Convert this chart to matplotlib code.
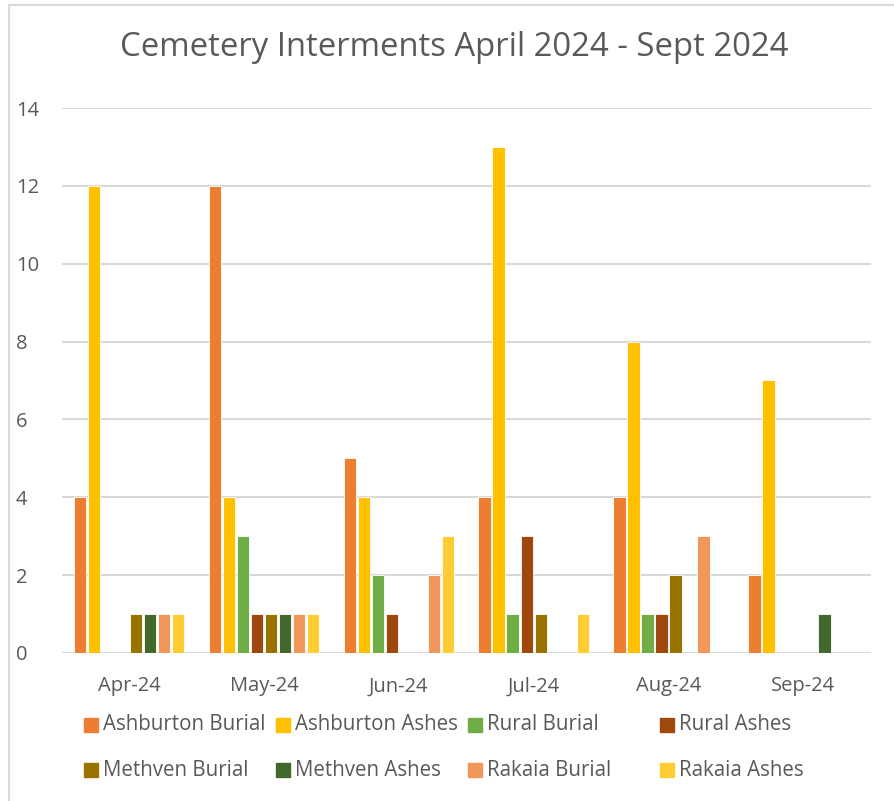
import numpy as np
import matplotlib.pyplot as plt
from matplotlib.patches import Rectangle
from matplotlib.lines import Line2D

months = ['Apr-24', 'May-24', 'Jun-24', 'Jul-24', 'Aug-24', 'Sep-24']
series_names = ['Ashburton Burial', 'Ashburton Ashes', 'Rural Burial', 'Rural Ashes',
                'Methven Burial', 'Methven Ashes', 'Rakaia Burial', 'Rakaia Ashes']

ashburton_burial = [4, 12, 5, 4, 4, 2]
ashburton_ashes = [12, 4, 4, 13, 8, 7]
rural_burial = [0, 3, 2, 1, 1, 0]
rural_ashes = [0, 1, 1, 3, 1, 0]
methven_burial = [1, 1, 0, 1, 2, 0]
methven_ashes = [1, 1, 0, 0, 0, 1]
rakaia_burial = [1, 1, 2, 0, 3, 0]
rakaia_ashes = [1, 1, 3, 1, 0, 0]

series = [ashburton_burial, ashburton_ashes, rural_burial, rural_ashes,
          methven_burial, methven_ashes, rakaia_burial, rakaia_ashes]
colors = ['#ED7D31', '#FFC000', '#70AD47', '#9E480E',
          '#997300', '#43682B', '#F1975A', '#FFCD33']

plt.rcParams['font.family'] = ['Open Sans', 'DejaVu Sans']
text_color = '#595959'
grid_color = '#D9D9D9'

W, H = 895, 801
fig = plt.figure(figsize=(W / 100, H / 100), dpi=100)
ax = fig.add_axes([0.069, 0.185, 0.904, 0.68])

x = np.arange(len(months))
slot = 0.104
width = 0.092
for i, (vals, c) in enumerate(zip(series, colors)):
    ax.bar(x + (i - 3.5) * slot, vals, width, color=c, edgecolor='white',
           linewidth=0.6, zorder=3)

ax.set_xlim(-0.5, len(months) - 0.5)
ax.set_ylim(0, 14)
ax.set_yticks(range(0, 15, 2))
ax.set_xticks(x)
ax.set_xticklabels(months)
ax.tick_params(axis='x', length=0, colors=text_color, labelsize=14.5, pad=17)
ax.tick_params(axis='y', length=0, colors=text_color, labelsize=14.5, pad=33)
for lbl in ax.get_yticklabels():
    lbl.set_horizontalalignment('left')
ax.grid(True, axis='y', color=grid_color, linewidth=1.5, zorder=0)
for s in ax.spines.values():
    s.set_visible(False)

fig.text(0.508, 1 - 48 / H, 'Cemetery Interments April 2024 - Sept 2024',
         ha='center', va='center', fontsize=23.7, color=text_color)

# legend: two rows of four equally spaced entries
for i, (name, c) in enumerate(zip(series_names, colors)):
    col, row = i % 4, i // 4
    px = 84 + col * 192
    py = 725 + row * 45
    fig.add_artist(Rectangle((px / W, 1 - (py + 7) / H), 14 / W, 14 / H,
                             transform=fig.transFigure, color=c))
    fig.text((px + 19) / W, 1 - py / H, name, ha='left', va='center',
             fontsize=14.8, color=text_color)

# chart border (top and left edges)
fig.add_artist(Line2D([9 / W, 9 / W], [0, 1 - 5 / H],
                      transform=fig.transFigure, color=grid_color, linewidth=1.5))
fig.add_artist(Line2D([9 / W, 1], [1 - 5 / H, 1 - 5 / H],
                      transform=fig.transFigure, color=grid_color, linewidth=1.5))

fig.savefig('out.png', dpi=100)
